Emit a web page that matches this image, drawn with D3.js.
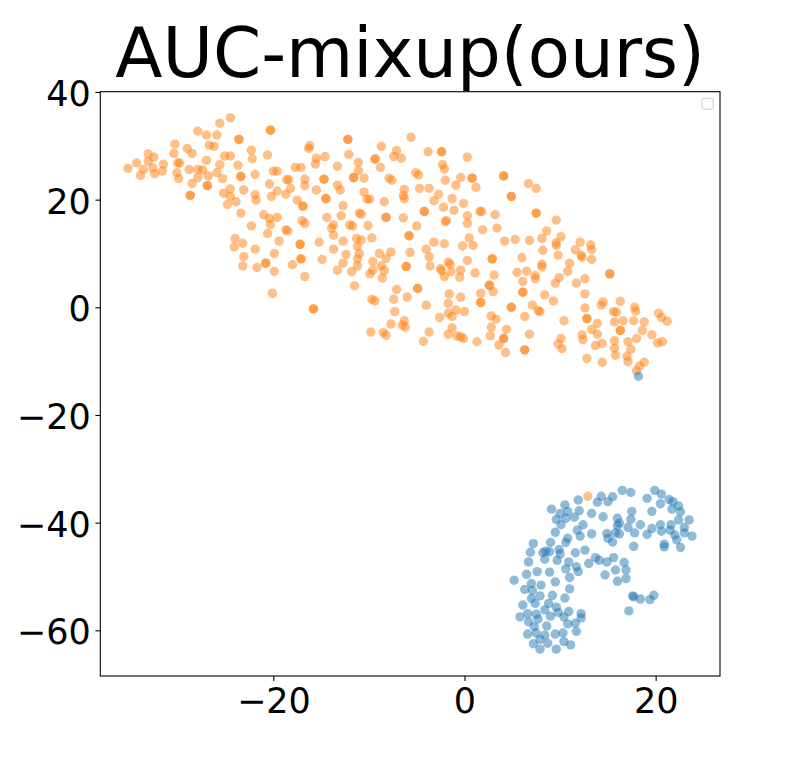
<!DOCTYPE html>
<html>
<head>
<meta charset="utf-8">
<script src="https://cdn.jsdelivr.net/npm/d3@7"></script>
<style>
  body { margin: 0; background: #fff; }
  svg { display: block; }
</style>
</head>
<body>
<div id="chart"></div>
<script>
// chart title and ticks
var title = 'AUC-mixup(ours)'
var xTicks = [-20, 0, 20]
var yTicks = [-60, -40, -20, 0, 20, 40]
var xDomain = [-38.1, 26.73]
var yDomain = [-68.49, 40.05]

// class 1 (orange), darker dots are two points on top of each other
var orangePoints = [
  [-24.5,35.2],[-25.6,34.2],[-20.3,32.9],[-20.3,32.9],[-27.9,32.7],[-27.0,32.0],[-25.9,32.0],
  [-23.6,31.2],[-23.6,31.2],[-30.3,30.3],[-26.7,30.1],[-26.2,29.9],[-29.0,29.5],[-22.3,29.2],
  [-30.4,28.6],[-28.5,28.6],[-25.1,28.1],[-24.5,28.1],[-20.6,28.3],[-33.1,28.5],[-32.5,27.9],
  [-33.1,27.1],[-22.2,27.6],[-34.3,26.8],[-31.5,26.6],[-30.0,26.8],[-29.8,26.8],[-27.0,27.3],
  [-25.6,26.5],[-23.7,26.4],[-35.2,25.8],[-33.6,25.6],[-32.6,25.9],[-31.6,25.3],[-28.8,25.6],
  [-27.9,25.6],[-27.4,25.5],[-25.9,25.0],[-33.9,24.5],[-32.4,24.8],[-30.1,25.0],[-29.9,23.9],
  [-26.8,24.4],[-25.3,23.9],[-23.4,24.3],[-23.4,24.3],[-21.9,24.7],[-20.0,25.3],[-19.6,25.3],
  [-17.7,26.0],[-17.1,26.0],[-27.9,24.1],[-28.5,23.0],[-26.9,22.6],[-26.9,22.6],[-23.1,21.8],
  [-24.5,22.0],[-20.4,22.9],[-18.6,23.7],[-18.4,23.7],[-18.2,22.1],[-19.6,21.6],[-20.2,20.6],
  [-18.7,21.0],[-25.2,21.2],[-24.5,20.6],[-23.9,19.6],[-24.8,19.1],[-28.7,20.8],[-28.7,20.8],
  [-21.9,20.9],[-21.8,19.9],[-17.5,19.9],[-16.9,18.8],[-16.9,18.8],[-23.4,17.5],[-21.0,17.2],
  [-19.6,16.7],[-20.4,16.5],[-20.3,15.4],[-22.3,15.1],[-17.0,16.1],[-18.7,14.4],[-18.5,14.2],
  [-20.6,13.7],[-19.4,12.3],[-24.0,12.8],[-24.1,11.2],[-23.2,11.9],[-21.9,10.8],[-17.2,11.7],
  [-17.2,11.7],[-19.9,10.0],[-23.1,9.4],[-23.2,7.7],[-20.8,8.2],[-20.8,8.2],[-21.7,7.4],
  [-19.9,6.7],[-18.0,7.9],[-17.1,9.0],[-17.1,9.0],[-16.7,5.7],[-20.1,2.6],
  [-5.6,31.6],[-12.2,31.2],[-12.2,31.2],[-8.7,29.9],[-16.2,30.0],[-16.3,29.5],[-12.1,28.4],
  [-7.1,29.1],[-7.4,28.0],[-6.6,27.7],[-3.8,28.9],[-2.4,28.9],[-2.4,28.9],[0.3,27.9],
  [-15.5,27.7],[-14.6,28.0],[-15.6,26.6],[-11.1,26.9],[-9.4,27.5],[-9.3,27.6],[-13.3,26.2],
  [-8.8,26.0],[-11.1,25.4],[-2.3,26.5],[-2.1,25.7],[-5.1,25.0],[-4.8,24.6],[-16.7,23.8],
  [-16.7,22.6],[-14.7,23.8],[-14.7,23.8],[-11.6,24.1],[-11.6,24.1],[-10.5,24.0],[-7.9,24.0],
  [-7.6,23.6],[-0.4,24.1],[0.8,24.0],[0.8,24.0],[-2.0,23.6],[1.2,22.3],[-0.9,22.7],
  [-13.3,22.7],[-13.0,21.8],[-15.5,21.8],[-10.5,21.4],[-6.3,21.9],[-4.7,22.1],[-3.7,22.1],
  [-2.7,21.0],[-10.2,20.1],[-9.9,20.1],[-6.4,20.8],[-6.3,20.2],[-14.5,20.2],[-14.5,20.2],
  [-8.4,19.6],[-3.2,19.8],[-1.3,20.2],[-0.1,19.3],[-12.7,18.9],[-2.2,18.6],[-1.1,18.0],
  [-4.2,17.8],[-4.2,17.8],[1.6,17.8],[1.8,17.8],[0.3,17.0],[-14.4,16.7],[-12.9,17.0],
  [-11.0,17.5],[-10.8,17.3],[-8.2,16.7],[-8.2,16.7],[-6.4,16.6],[-16.7,15.6],[-2.0,15.9],
  [-1.9,16.1],[0.3,15.6],[-13.9,14.7],[-13.7,15.3],[-12.0,15.3],[-11.7,15.1],[-10.1,15.2],
  [-5.0,15.1],[1.9,14.4],[-13.7,13.4],[-5.8,13.3],[-5.8,13.3],[0.5,12.9],[-9.7,12.9],
  [-11.3,12.8],[-10.8,12.5],[-12.7,12.3],[-15.2,12.1],[-3.2,12.1],[-2.1,11.8],[-0.2,11.4],
  [0.9,11.5],[-11.2,11.3],[-4.0,10.8],[-13.7,10.8],[-7.7,10.3],[-8.9,10.0],[-11.0,10.0],
  [-5.7,10.2],[-12.4,9.8],[2.9,9.0],[2.9,9.0],[-14.9,8.9],[-3.7,9.4],[0.3,8.7],[-11.2,9.0],
  [-8.2,9.1],[-9.6,8.5],[-12.7,8.2],[-11.2,7.7],[-8.7,7.7],[-6.1,7.6],[-6.1,7.6],[-3.6,7.7],
  [-1.7,8.4],[-1.5,8.0],[-2.5,7.2],[-2.4,6.8],[-1.4,6.6],[-0.4,6.9],[-13.3,6.9],[-11.8,6.6],
  [-9.6,6.9],[-9.9,6.2],[-8.4,6.8],[1.1,6.4],[-8.6,5.4],
  [-2.1,5.7],[-0.5,5.6],[-11.5,4.0],[-7.1,3.3],[-4.9,3.5],[-4.9,3.5],[-1.6,2.5],[-0.4,1.9],
  [1.7,2.6],[1.7,0.9],[1.7,0.9],[-9.7,1.5],[-9.4,1.2],[-7.4,1.5],[-6.0,1.9],[-4.0,0.4],
  [-1.7,0.7],[-15.8,-0.3],[-15.8,-0.3],[-7.3,-0.8],[-1.7,-1.1],[-1.3,-1.7],[-0.9,-0.5],
  [0.0,-0.8],[-2.6,-1.9],[-6.3,-2.5],[-6.5,-3.3],[-6.2,-3.7],[-7.7,-3.1],[-9.8,-4.6],
  [-8.5,-4.7],[-8.2,-5.2],[-3.7,-4.6],[-4.3,-6.3],[-1.3,-3.8],[-1.7,-5.0],[-0.8,-5.3],
  [-0.4,-5.5],[-0.1,-5.8],[1.3,-6.4],
  [4.1,24.4],[4.1,24.4],[6.7,23.0],[7.5,22.1],[4.9,20.6],[4.9,20.6],[7.5,17.5],[7.5,17.5],
  [3.2,17.2],[9.6,16.2],[3.4,14.7],[8.6,14.2],[4.2,12.3],[5.3,12.6],[6.8,12.4],[8.1,12.8],
  [10.1,13.1],[9.6,12.0],[9.6,11.5],[12.1,12.1],[13.2,11.6],[13.3,10.7],[11.6,10.7],
  [8.2,10.6],[12.2,9.7],[12.3,9.3],[9.8,9.7],[13.3,8.9],[6.0,9.2],[11.0,8.2],[8.1,8.0],
  [8.1,7.5],[10.8,6.7],[3.1,6.0],[5.5,6.5],[6.5,6.7],[7.4,5.9],[7.4,5.3],[9.9,5.5],
  [12.6,5.3],[15.2,6.2],[15.2,6.2],
  [9.5,4.5],[11.7,4.5],[2.6,4.1],[2.6,4.1],[3.0,2.9],[6.1,2.8],[6.1,2.8],[6.1,4.8],[8.4,2.3],
  [9.3,1.2],[12.6,2.5],[4.9,0.0],[4.9,0.0],[7.1,0.4],[7.7,-0.6],[7.9,-0.8],[6.3,-1.7],
  [2.8,-1.6],[3.3,-2.2],[2.8,-3.7],[2.7,-5.3],[4.4,-4.1],[4.1,-5.8],[4.1,-5.8],[3.6,-7.0],
  [4.3,-8.4],[6.8,-5.0],[6.3,-7.9],[6.3,-7.9],[10.4,-2.5],[10.1,-5.8],[9.8,-6.8],[10.2,-7.7],
  [12.6,-0.1],[12.8,-2.1],[12.8,-2.1],[13.9,-3.0],[13.3,-4.1],[12.3,-5.1],[12.4,-6.0],
  [13.9,-5.0],[13.7,-7.1],[14.4,-6.7],[12.8,-9.5],[14.4,-10.2],[14.3,0.4],[14.5,1.0],
  [15.6,-0.8],[15.9,-0.9],[16.3,1.1],[15.7,-2.7],[16.6,-2.5],[16.3,-4.3],[16.3,-4.3],
  [17.7,-2.5],[17.8,0.0],[17.9,-0.7],[18.8,-2.7],[18.6,-4.3],[18.0,-5.8],[19.6,-5.1],
  [20.3,-1.1],[20.6,-1.9],[21.2,-2.6],[20.2,-6.6],[20.7,-6.4],[15.7,-6.2],[17.1,-6.4],
  [15.7,-7.6],[17.4,-7.8],[15.8,-8.9],[17.0,-9.1],[17.1,-10.1],[18.3,-10.9],[18.8,-10.2],
  [18.0,-11.8],
  [12.9,-35.1]
]

// class 0 (blue)
var bluePoints = [
  [18.2,-12.8],
  [16.5,-34.0],[17.4,-34.4],[19.9,-34.0],[20.6,-34.7],[19.1,-35.5],[14.3,-35.1],[15.0,-36.1],
  [15.5,-35.2],[13.9,-36.2],[11.9,-35.8],[10.5,-36.7],[9.1,-37.5],[10.0,-38.3],[10.8,-37.9],
  [12.0,-37.8],[13.3,-38.3],[14.5,-38.9],[16.0,-39.2],[17.5,-37.9],[17.4,-39.4],[19.6,-37.9],
  [20.5,-36.5],[21.4,-35.7],[21.8,-36.1],[22.4,-36.9],[21.7,-37.5],[22.6,-38.0],[9.6,-39.4],
  [10.6,-39.2],[11.5,-39.0],[12.4,-40.4],[11.8,-41.4],[12.1,-42.5],[13.3,-42.1],[10.1,-40.4],
  [9.5,-41.8],[10.8,-42.9],[10.6,-43.7],[9.0,-43.7],[7.2,-43.9],[6.9,-45.5],[8.2,-45.6],
  [8.5,-45.3],[9.9,-45.0],[10.0,-45.8],[11.6,-45.6],[12.6,-45.1],[13.7,-46.5],[14.1,-47.0],
  [13.0,-47.6],[14.9,-47.3],[15.6,-46.5],[16.7,-47.4],[15.8,-48.8],[16.9,-48.8],[16.9,-50.4],
  [16.0,-50.9],[14.7,-49.7],[11.7,-48.2],[11.9,-49.1],[11.0,-50.2],[10.6,-48.6],[10.9,-47.3],
  [9.7,-47.0],[8.9,-45.4],[8.4,-46.8],[6.7,-47.3],[7.6,-49.1],[8.9,-49.2],[6.5,-49.6],
  [7.0,-51.3],[5.2,-50.7],[9.5,-51.0],[8.0,-51.6],[6.3,-52.4],[7.1,-52.6],[11.0,-52.3],
  [9.2,-53.5],[7.9,-53.6],[7.0,-54.1],[10.5,-54.0],[6.1,-55.3],[7.4,-55.0],[8.8,-55.0],
  [8.4,-56.2],[9.6,-55.7],[9.8,-56.7],[10.9,-56.5],[12.2,-56.9],[12.2,-57.7],[5.8,-57.5],
  [6.6,-56.9],[7.5,-57.0],[6.7,-58.4],[7.7,-57.9],[9.0,-57.4],[10.4,-57.5],[7.3,-59.3],
  [8.6,-59.2],[10.8,-58.8],[11.6,-58.7],[11.7,-60.2],[10.3,-60.5],[9.5,-60.7],[8.4,-60.9],
  [7.5,-60.5],[6.6,-60.7],[7.9,-61.7],[7.2,-62.5],[8.7,-62.4],[10.4,-62.1],[11.1,-62.7],
  [9.6,-63.5],[7.9,-63.5],[17.6,-53.6],[17.7,-53.8],[18.4,-54.2],[19.4,-54.3],[19.8,-53.5],
  [17.2,-56.4],[17.7,-44.4],[14.9,-42.0],[15.0,-42.9],[15.5,-43.6],[16.2,-42.1],[16.0,-40.6],
  [16.2,-40.1],[17.1,-40.9],[17.8,-41.9],[18.4,-40.4],[19.1,-42.2],[19.6,-41.1],[20.5,-40.4],
  [20.6,-41.6],[21.5,-41.4],[22.0,-42.3],[22.2,-43.2],[22.6,-44.6],[20.9,-44.0],[20.9,-44.5],
  [21.6,-40.4],[22.4,-39.5],[23.0,-40.9],[23.0,-41.9],[23.5,-39.5],[23.8,-42.5],[15.8,-41.9]
]

var colors = { orange: '#ff7f0e', blue: '#1f77b4' }

function minusFmt(d) {
  return d < 0 ? '\u2212' + Math.abs(d) : String(d)
}

function draw() {
  var width = 800
  var height = 759
  var plot = { left: 100.3, right: 720, top: 91.7, bottom: 676 }
  var font = 'DejaVu Sans, sans-serif'

  var xScale = d3.scaleLinear().domain(xDomain).range([plot.left, plot.right])
  var yScale = d3.scaleLinear().domain(yDomain).range([plot.bottom, plot.top])

  var svg = d3
    .select('#chart')
    .append('svg')
    .attr('width', width)
    .attr('height', height)

  svg.append('rect').attr('width', width).attr('height', height).attr('fill', '#fff')

  // points: orange first, blue on top
  svg
    .append('g')
    .selectAll('circle')
    .data(orangePoints)
    .enter()
    .append('circle')
    .attr('cx', function(d) { return xScale(d[0]) })
    .attr('cy', function(d) { return yScale(d[1]) })
    .attr('r', 4.7)
    .attr('fill', colors.orange)
    .attr('fill-opacity', 0.5)

  svg
    .append('g')
    .selectAll('circle')
    .data(bluePoints)
    .enter()
    .append('circle')
    .attr('cx', function(d) { return xScale(d[0]) })
    .attr('cy', function(d) { return yScale(d[1]) })
    .attr('r', 4.7)
    .attr('fill', colors.blue)
    .attr('fill-opacity', 0.5)

  // x axis
  var xAxis = d3
    .axisBottom(xScale)
    .tickValues(xTicks)
    .tickSize(4.9)
    .tickPadding(7.4)
    .tickFormat(minusFmt)

  var gx = svg
    .append('g')
    .attr('transform', 'translate(0,' + plot.bottom + ')')
    .call(xAxis)
  gx.select('.domain').remove()
  gx.selectAll('line').attr('stroke', '#000').attr('stroke-width', 1.1)
  gx.selectAll('text')
    .attr('fill', '#000')
    .style('font-family', font)
    .style('font-size', '35px')

  // y axis
  var yAxis = d3
    .axisLeft(yScale)
    .tickValues(yTicks)
    .tickSize(4.9)
    .tickPadding(4.7)
    .tickFormat(minusFmt)

  var gy = svg
    .append('g')
    .attr('transform', 'translate(' + plot.left + ',0)')
    .call(yAxis)
  gy.select('.domain').remove()
  gy.selectAll('line').attr('stroke', '#000').attr('stroke-width', 1.1)
  gy.selectAll('text')
    .attr('fill', '#000')
    .attr('dy', '0.39em')
    .style('font-family', font)
    .style('font-size', '35px')

  // frame
  svg
    .append('rect')
    .attr('x', plot.left)
    .attr('y', plot.top)
    .attr('width', plot.right - plot.left)
    .attr('height', plot.bottom - plot.top)
    .attr('fill', 'none')
    .attr('stroke', '#000')
    .attr('stroke-width', 1.1)

  // empty legend box
  svg
    .append('rect')
    .attr('x', plot.right - 18)
    .attr('y', plot.top + 6.5)
    .attr('width', 11)
    .attr('height', 11)
    .attr('rx', 2)
    .attr('fill', '#fff')
    .attr('fill-opacity', 0.8)
    .attr('stroke', '#cccccc')
    .attr('stroke-width', 1)

  // title
  svg
    .append('text')
    .attr('x', (plot.left + plot.right) / 2)
    .attr('y', 77)
    .attr('text-anchor', 'middle')
    .style('font-family', font)
    .style('font-size', '69px')
    .attr('fill', '#000')
    .text(title)
}

draw()
</script>
</body>
</html>
